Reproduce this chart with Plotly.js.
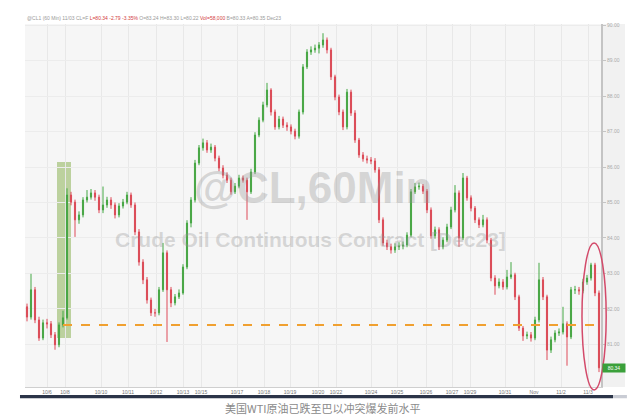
<!DOCTYPE html>
<html>
<head>
<meta charset="utf-8">
<script src="https://cdn.plot.ly/plotly-3.0.1.min.js"></script>
<style>html,body{margin:0;padding:0;background:#fff;}#chart{width:640px;height:416px;}</style>
</head>
<body>
<div id="chart"></div>
<script>
// Hourly bars (index), CL Dec23
const openP = [82.06,81.77,82.54,81.69,81.18,81.61,81.58,81.27,80.99,81.55,
81.75,85.21,85.01,84.51,84.65,85.07,85.15,85.27,85.15,84.79,
84.93,85.07,84.93,84.65,84.90,85.01,85.21,84.93,84.17,83.32,
82.82,82.25,81.89,81.89,82.54,83.58,82.54,82.17,82.34,82.45,
83.18,84.42,85.07,86.11,86.54,86.68,86.48,86.56,86.25,85.97,
85.77,85.63,85.30,85.46,85.69,85.63,85.30,85.86,86.90,87.32,
87.75,88.17,87.55,87.13,87.35,87.18,87.13,87.01,86.87,87.55,
88.82,89.24,89.30,89.35,89.44,89.58,89.30,88.54,87.97,87.55,
87.13,88.11,87.52,86.76,86.34,86.23,86.20,86.17,85.92,84.51,
83.86,83.75,83.66,83.75,83.77,83.80,84.08,85.30,85.44,85.46,
85.32,84.79,84.06,84.23,83.75,83.94,84.31,84.79,85.27,84.00,
85.69,85.13,84.84,84.51,84.37,84.51,83.94,82.87,82.65,82.76,
82.62,82.90,82.96,82.34,81.46,81.24,81.27,81.18,81.69,82.82,
82.34,80.84,81.13,81.32,81.35,81.58,81.21,82.54,82.54,82.51,
82.76,82.87,83.24,82.45];
const highP = [82.15,82.99,82.62,81.78,81.70,81.72,81.66,81.35,81.62,81.95,
85.40,85.30,85.08,84.75,85.15,85.35,85.38,85.35,85.22,85.45,
85.16,85.15,85.00,84.98,85.10,85.30,85.28,85.00,84.25,83.40,
82.90,82.32,82.00,82.62,83.86,83.65,82.62,82.42,82.55,83.26,
84.50,85.15,86.20,86.62,86.80,86.76,86.66,86.62,86.32,86.05,
85.85,85.70,85.55,85.78,85.76,85.70,85.95,86.98,87.40,87.84,
88.37,88.22,87.62,87.44,87.42,87.26,87.20,87.08,87.62,88.90,
89.32,89.40,89.45,89.52,89.77,89.65,89.36,88.60,88.04,87.62,
88.20,88.18,87.60,86.82,86.42,86.32,86.28,86.25,86.00,84.58,
83.95,83.84,83.85,83.88,83.90,84.16,85.38,85.55,85.56,85.52,
85.38,84.86,84.32,84.30,84.02,84.40,84.88,85.49,85.34,85.83,
85.75,85.20,84.90,84.58,84.65,84.58,84.00,82.95,82.86,82.84,
83.10,83.32,83.02,82.40,81.52,81.36,81.35,81.78,83.30,82.90,
82.40,81.22,81.40,81.45,82.06,81.65,82.62,82.65,82.62,82.85,
82.96,83.30,83.30,82.52];
const lowP = [81.65,81.70,81.60,81.10,81.12,81.45,81.18,80.85,80.92,81.48,
81.70,84.92,84.03,84.40,84.58,85.00,85.08,85.05,84.70,84.70,
84.85,84.82,84.55,84.58,84.83,84.95,84.85,84.08,83.22,82.70,
82.15,81.80,81.78,81.82,82.48,81.07,82.05,82.10,82.28,82.40,
83.12,84.30,85.00,86.05,86.46,86.40,86.40,86.16,85.88,85.68,
85.55,85.22,85.24,85.40,85.56,84.51,85.24,85.80,86.84,87.26,
87.68,87.45,87.05,87.06,87.10,87.02,86.92,86.78,86.80,87.48,
88.76,89.16,89.22,89.20,89.36,89.20,88.45,87.88,87.46,87.04,
87.06,87.44,86.68,86.26,86.15,86.10,86.08,85.84,84.42,83.78,
83.66,83.56,83.58,83.66,83.68,83.74,84.02,85.24,85.36,85.24,
84.70,83.98,83.98,83.66,83.68,83.88,84.25,84.72,83.75,83.94,
85.05,84.75,84.42,84.28,84.30,83.85,82.78,82.40,82.58,82.54,
82.55,82.84,82.25,81.38,81.10,81.15,81.08,81.12,81.62,82.25,
80.56,80.76,81.06,81.24,81.28,80.40,81.15,82.42,82.40,82.44,
82.68,82.80,82.36,80.22];
const closeP = [81.77,82.54,81.69,81.18,81.61,81.58,81.27,80.99,81.55,81.75,
85.21,85.01,84.51,84.65,85.07,85.15,85.27,85.15,84.79,84.93,
85.07,84.93,84.65,84.90,85.01,85.21,84.93,84.17,83.32,82.82,
82.25,81.89,81.89,82.54,83.58,82.54,82.17,82.34,82.45,83.18,
84.42,85.07,86.11,86.54,86.68,86.48,86.56,86.25,85.97,85.77,
85.63,85.30,85.46,85.69,85.63,85.30,85.86,86.90,87.32,87.75,
88.17,87.55,87.13,87.35,87.18,87.13,87.01,86.87,87.55,88.82,
89.24,89.30,89.35,89.44,89.58,89.30,88.54,87.97,87.55,87.13,
88.11,87.52,86.76,86.34,86.23,86.20,86.17,85.92,84.51,83.86,
83.75,83.66,83.75,83.77,83.80,84.08,85.30,85.44,85.46,85.32,
84.79,84.06,84.23,83.75,83.94,84.31,84.79,85.27,84.00,85.69,
85.13,84.84,84.51,84.37,84.51,83.94,82.87,82.65,82.76,82.62,
82.90,82.96,82.34,81.46,81.24,81.27,81.18,81.69,82.82,82.34,
80.84,81.13,81.32,81.35,81.58,81.21,82.54,82.54,82.51,82.76,
82.87,83.24,82.45,80.34];

const tickPos = [5,9.5,18.5,25.25,32.25,39,43.5,52.5,59.25,65.75,72.75,77.25,86,92.5,99.75,106.25,110.75,119.5,126.75,133.5,140.25];
const tickText = ["10/6","10/8","10/10","10/11","10/12","10/13","10/15","10/17","10/18","10/19","10/20","10/22","10/24","10/25","10/26","10/27","10/29","10/31","Nov","11/2","11/3"];
const priceTicks = [81,82,83,84,85,86,87,88,89,90];
const priceTickText = ["81.00","82.00","83.00","84.00","85.00","86.00","87.00","88.00","89.00","90.00"];
const preWarLevel = 81.55;
const gapBox = {x0: 7.5, x1: 11, y0: 81.18, y1: 86.14};
const caption = "美国WTI原油已跌至巴以冲突爆发前水平";

const xIdx = closeP.map((_, i) => i);
const last = closeP[closeP.length - 1];

const trace = {
  type: 'candlestick',
  x: xIdx, open: openP, high: highP, low: lowP, close: closeP,
  increasing: {line: {color: '#45a845', width: 1}, fillcolor: '#8a5a22'},
  decreasing: {line: {color: '#de4a58', width: 1}, fillcolor: '#8a4a18'},
  whiskerwidth: 0,
  hoverinfo: 'skip',
  showlegend: false
};

const layout = {
  width: 640, height: 416,
  margin: {l: 25, r: 39, t: 24, b: 29},
  paper_bgcolor: '#ffffff',
  plot_bgcolor: '#f6f6f6',
  boxgap: 0.6,
  font: {family: 'Liberation Sans, Arial, sans-serif', color: '#999'},
  showlegend: false,
  xaxis: {
    range: [-0.5, 143.5], rangeslider: {visible: false},
    tickvals: tickPos, ticktext: tickText,
    tickfont: {size: 5, color: '#777'},
    showgrid: true, gridcolor: '#e8e8e8', gridwidth: 1,
    showline: true, linecolor: '#cfcfcf', linewidth: 1,
    ticks: '', zeroline: false, fixedrange: true
  },
  yaxis: {
    side: 'right', range: [79.80, 90.03],
    tickvals: priceTicks, ticktext: priceTickText,
    tickfont: {size: 5, color: '#aaa'},
    showgrid: true, gridcolor: '#ececec', gridwidth: 1,
    showline: true, linecolor: '#c4c4c4', linewidth: 2,
    ticks: 'outside', ticklen: 3, tickcolor: '#c4c4c4',
    zeroline: false, fixedrange: true
  },
  shapes: [
    {type: 'rect', xref: 'paper', yref: 'paper', x0: 1, x1: 1.0417, y0: 0, y1: 1,
     fillcolor: '#f1f1f1', line: {width: 0}, layer: 'below'},
    {type: 'rect', xref: 'x', yref: 'y', x0: gapBox.x0, x1: gapBox.x1, y0: gapBox.y0, y1: gapBox.y1,
     fillcolor: 'rgba(150,185,100,0.6)', line: {width: 0}, layer: 'below'},
    {type: 'line', xref: 'x', yref: 'y', x0: 9, x1: 143.5, y0: preWarLevel, y1: preWarLevel,
     line: {color: '#f0a030', width: 2, dash: 'dash'}},
    {type: 'circle', xref: 'paper', yref: 'paper', x0: 0.967, x1: 1.009, y0: -0.008, y1: 0.397,
     line: {color: '#d34a6a', width: 1.5}},
    {type: 'rect', xref: 'paper', yref: 'paper', x0: -0.0087, x1: 1.021, y0: -0.031, y1: -0.022,
     fillcolor: '#2b3448', line: {width: 0}},
    {type: 'rect', xref: 'paper', yref: 'paper', x0: 1.021, x1: 1.045, y0: -0.031, y1: -0.022,
     fillcolor: '#c9ccd4', line: {width: 0}}
  ],
  annotations: [
    {text: '@CL,60Min', xref: 'paper', yref: 'paper', x: 0.5, y: 0.55, xanchor: 'center', yanchor: 'middle',
     showarrow: false, font: {size: 44, color: 'rgba(150,150,150,0.35)', family: 'Liberation Sans, Arial', weight: 'bold'}},
    {text: 'Crude Oil Continuous Contract [Dec23]', xref: 'paper', yref: 'paper', x: 0.495, y: 0.405, xanchor: 'center', yanchor: 'middle',
     showarrow: false, font: {size: 21, color: 'rgba(150,150,150,0.35)', family: 'Liberation Sans, Arial', weight: 'bold'}},
    {text: '@CL1 (60 Min) 11/03 CL=F <span style="color:#d23c3c">L=80.34 -2.79 -3.35%</span> O=83.24 H=83.30 L=80.22 <span style="color:#d23c3c">Vol=58,000</span> B=80.33 A=80.35 Dec23',
     xref: 'paper', yref: 'paper', x: 0, y: 1.003, xanchor: 'left', yanchor: 'bottom',
     showarrow: false, font: {size: 5, color: '#9a9a9a'}},
    {text: last.toFixed(2), xref: 'paper', yref: 'y', x: 1.002, y: last, xanchor: 'left', yanchor: 'middle',
     showarrow: false, bgcolor: '#3aa03a', borderpad: 1, font: {size: 5, color: '#ffffff'}, width: 20},
    {text: caption, xref: 'paper', yref: 'paper', x: 0.517, y: -0.058, xanchor: 'center', yanchor: 'middle',
     showarrow: false, font: {size: 11, color: '#8a8a8a', family: 'Noto Sans CJK SC, sans-serif'}}
  ]
};

Plotly.newPlot('chart', [trace], layout, {displayModeBar: false, staticPlot: true});
</script>
</body>
</html>
